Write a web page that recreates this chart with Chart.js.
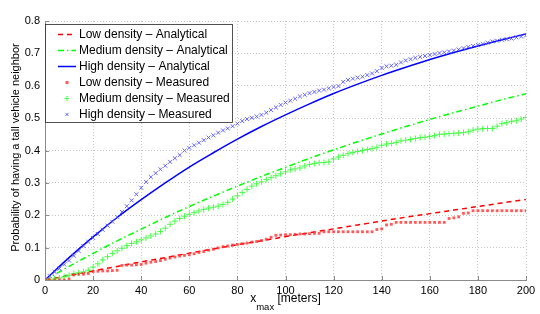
<!DOCTYPE html>
<html>
<head>
<meta charset="utf-8">
<script src="https://cdn.jsdelivr.net/npm/chart.js@4/dist/chart.umd.min.js"></script>
<style>
html,body{margin:0;padding:0;background:#fff;}
#wrap{width:540px;height:314px;position:relative;}
</style>
</head>
<body>
<div id="wrap"><canvas id="c" width="540" height="314"></canvas></div>
<script>
// ---- data ----
const xAnalytical = [0,10,20,30,40,50,60,70,80,90,100,110,120,130,140,150,160,170,180,190,200];
const lowAnalytical = [0,0.014,0.028,0.042,0.056,0.069,0.083,0.096,0.109,0.121,0.134,0.146,0.158,0.170,0.182,0.194,0.205,0.216,0.227,0.238,0.249];
const mediumAnalytical = [0,0.042,0.082,0.121,0.157,0.193,0.227,0.259,0.290,0.320,0.348,0.376,0.402,0.427,0.451,0.474,0.496,0.517,0.537,0.557,0.575];
const highAnalytical = [0,0.069,0.133,0.193,0.248,0.300,0.349,0.393,0.435,0.474,0.510,0.544,0.576,0.605,0.632,0.657,0.681,0.703,0.723,0.742,0.760];

const xMeasured = [0,2,4,6,8,10,12,14,16,18,20,22,24,26,28,30,32,34,36,38,40,42,44,46,48,50,52,54,56,58,60,62,64,66,68,70,72,74,76,78,80,82,84,86,88,90,92,94,96,98,100,102,104,106,108,110,112,114,116,118,120,122,124,126,128,130,132,134,136,138,140,142,144,146,148,150,152,154,156,158,160,162,164,166,168,170,172,174,176,178,180,182,184,186,188,190,192,194,196,198,200];
const lowMeasured = [0,0,0,0,0,0.003,0.016,0.018,0.018,0.020,0.026,0.027,0.028,0.028,0.029,0.030,0.045,0.046,0.046,0.047,0.048,0.052,0.055,0.057,0.060,0.064,0.068,0.071,0.074,0.076,0.078,0.081,0.085,0.088,0.092,0.095,0.099,0.103,0.105,0.108,0.110,0.112,0.114,0.117,0.119,0.122,0.126,0.132,0.138,0.139,0.140,0.140,0.141,0.142,0.142,0.143,0.144,0.144,0.149,0.149,0.149,0.149,0.149,0.149,0.149,0.149,0.149,0.149,0.149,0.156,0.158,0.170,0.172,0.178,0.178,0.178,0.178,0.178,0.178,0.178,0.178,0.178,0.178,0.178,0.190,0.192,0.195,0.206,0.207,0.214,0.214,0.214,0.214,0.214,0.214,0.214,0.214,0.214,0.214,0.214,0.214];
const mediumMeasured = [0,0,0.003,0.006,0.010,0.015,0.020,0.022,0.025,0.030,0.040,0.050,0.062,0.072,0.082,0.090,0.098,0.106,0.113,0.118,0.124,0.130,0.136,0.142,0.150,0.160,0.172,0.182,0.190,0.197,0.203,0.208,0.213,0.218,0.222,0.225,0.228,0.233,0.240,0.250,0.260,0.270,0.280,0.290,0.297,0.303,0.310,0.316,0.322,0.328,0.334,0.340,0.343,0.346,0.352,0.357,0.360,0.362,0.363,0.365,0.374,0.380,0.385,0.390,0.394,0.397,0.400,0.403,0.406,0.410,0.416,0.420,0.422,0.425,0.430,0.432,0.434,0.437,0.440,0.441,0.443,0.446,0.450,0.451,0.452,0.453,0.454,0.455,0.458,0.463,0.466,0.467,0.468,0.468,0.475,0.483,0.486,0.490,0.492,0.497,0.502];
const highMeasured = [0,0.012,0.025,0.035,0.048,0.060,0.075,0.090,0.105,0.118,0.130,0.142,0.155,0.168,0.180,0.195,0.210,0.228,0.246,0.265,0.285,0.303,0.318,0.330,0.342,0.353,0.365,0.376,0.386,0.400,0.408,0.416,0.424,0.432,0.440,0.447,0.455,0.462,0.468,0.475,0.483,0.491,0.497,0.501,0.505,0.510,0.517,0.525,0.533,0.541,0.548,0.554,0.560,0.567,0.572,0.577,0.581,0.585,0.588,0.592,0.596,0.599,0.612,0.618,0.622,0.625,0.628,0.633,0.638,0.645,0.655,0.660,0.662,0.665,0.672,0.678,0.682,0.686,0.689,0.692,0.695,0.698,0.701,0.703,0.706,0.709,0.712,0.716,0.720,0.723,0.726,0.729,0.733,0.737,0.739,0.742,0.744,0.746,0.749,0.752,0.755];

const xTicks = [0,20,40,60,80,100,120,140,160,180,200];
const yTicks = [0,0.1,0.2,0.3,0.4,0.5,0.6,0.7,0.8];

const seriesLabels = [
  'Low density \u2013 Analytical',
  'Medium density \u2013 Analytical',
  'High density \u2013 Analytical',
  'Low density \u2013 Measured',
  'Medium density \u2013 Measured',
  'High density \u2013 Measured'
];

const FONT = '"Liberation Sans", Arial, Helvetica, sans-serif';
const pts = (xs, ys) => xs.map((x, i) => ({x: x, y: ys[i]}));

const RED = '#ff0000', GREEN = '#00ff00', BLUE = '#0000ff';
const dashRed = [5,4];
const dashGreen = [6,3,1.5,3];

const datasets = [
  {label: seriesLabels[0], data: pts(xAnalytical, lowAnalytical), showLine: true, borderColor: RED, borderWidth: 1.5, borderDash: dashRed, pointRadius: 0, cubicInterpolationMode: 'monotone', order: 2},
  {label: seriesLabels[1], data: pts(xAnalytical, mediumAnalytical), showLine: true, borderColor: GREEN, borderWidth: 1.5, borderDash: dashGreen, pointRadius: 0, cubicInterpolationMode: 'monotone', order: 2},
  {label: seriesLabels[2], data: pts(xAnalytical, highAnalytical), showLine: true, borderColor: BLUE, borderWidth: 1.5, pointRadius: 0, cubicInterpolationMode: 'monotone', order: 2},
  {label: seriesLabels[3], data: pts(xMeasured, lowMeasured), showLine: false, pointStyle: 'rect', pointRadius: 2, backgroundColor: 'rgba(255,50,50,0.8)', borderWidth: 0, order: 1},
  {label: seriesLabels[4], data: pts(xMeasured, mediumMeasured), showLine: false, pointStyle: 'cross', pointRadius: 3, borderColor: '#44ff44', backgroundColor: '#44ff44', borderWidth: 1, order: 1},
  {label: seriesLabels[5], data: pts(xMeasured, highMeasured), showLine: false, pointStyle: 'crossRot', pointRadius: 2.8, borderColor: '#5555ff', backgroundColor: '#5555ff', borderWidth: 0.9, order: 1}
];

const decor = {
  id: 'decor',
  afterDraw(chart) {
    const ctx = chart.ctx;
    const xs = chart.scales.x, ys = chart.scales.y;
    const a = chart.chartArea;
    ctx.save();
    // inward tick marks
    ctx.strokeStyle = '#8a8a8a';
    ctx.lineWidth = 1;
    ctx.beginPath();
    xTicks.forEach(v => {
      const px = Math.round(xs.getPixelForValue(v)) + 0.5;
      ctx.moveTo(px, a.bottom); ctx.lineTo(px, a.bottom - 4);
    });
    yTicks.forEach(v => {
      const py = Math.round(ys.getPixelForValue(v)) + 0.5;
      ctx.moveTo(a.left, py); ctx.lineTo(a.left + 4, py);
    });
    ctx.stroke();

    // legend
    const lx = 45.5, ly = 24.5, lw = 187, lh = 98;
    ctx.fillStyle = '#ffffff';
    ctx.fillRect(lx, ly, lw, lh);
    ctx.strokeStyle = '#262626';
    ctx.lineWidth = 0.8;
    ctx.setLineDash([]);
    ctx.strokeRect(lx, ly, lw, lh);
    const rows = [34.5, 50.5, 66.5, 82.5, 98.5, 114.5];
    ctx.font = '12px ' + FONT;
    ctx.textBaseline = 'middle';
    ctx.textAlign = 'left';
    chart.data.datasets.forEach((ds, i) => {
      const y = rows[i];
      if (ds.showLine) {
        ctx.save();
        ctx.strokeStyle = ds.borderColor;
        ctx.lineWidth = ds.borderWidth;
        ctx.setLineDash(ds.borderDash || []);
        ctx.beginPath();
        ctx.moveTo(58, y); ctx.lineTo(76, y);
        ctx.stroke();
        ctx.restore();
      } else {
        ctx.save();
        const cx = 67;
        if (ds.pointStyle === 'rect') {
          ctx.fillStyle = ds.backgroundColor;
          ctx.fillRect(cx - 1.5, y - 1.5, 3, 3);
        } else if (ds.pointStyle === 'cross') {
          ctx.strokeStyle = ds.borderColor; ctx.lineWidth = 1;
          ctx.beginPath(); ctx.moveTo(cx - 2.5, y); ctx.lineTo(cx + 2.5, y); ctx.moveTo(cx, y - 2.5); ctx.lineTo(cx, y + 2.5); ctx.stroke();
        } else {
          ctx.strokeStyle = ds.borderColor; ctx.lineWidth = 0.9;
          ctx.beginPath(); ctx.moveTo(cx - 1.6, y - 1.6); ctx.lineTo(cx + 1.6, y + 1.6); ctx.moveTo(cx + 1.6, y - 1.6); ctx.lineTo(cx - 1.6, y + 1.6); ctx.stroke();
        }
        ctx.restore();
      }
      ctx.fillStyle = '#000';
      ctx.fillText(ds.label, 79, y);
    });

    // y title
    ctx.save();
    ctx.translate(16, (a.top + a.bottom) / 2 - 3);
    ctx.rotate(-Math.PI / 2);
    ctx.font = '11px ' + FONT;
    ctx.fillStyle = '#000';
    ctx.textAlign = 'center';
    ctx.textBaseline = 'middle';
    ctx.fillText('Probability of having a tall vehicle neighbor', 0, 0);
    ctx.restore();

    // x title with subscript
    ctx.save();
    ctx.fillStyle = '#000';
    ctx.textBaseline = 'alphabetic';
    ctx.textAlign = 'left';
    const f1 = '12px ' + FONT, f2 = '9.5px ' + FONT;
    ctx.font = f1; const w1 = ctx.measureText('x').width;
    ctx.font = f2; const w2 = ctx.measureText('max').width;
    ctx.font = f1; const w3 = ctx.measureText(' [meters]').width;
    const total = w1 + w2 + w3;
    let sx = (a.left + a.right) / 2 - total / 2;
    const base = 302;
    ctx.font = f1; ctx.fillText('x', sx, base); sx += w1;
    ctx.font = f2; ctx.fillText('max', sx, base + 8); sx += w2;
    ctx.font = f1; ctx.fillText(' [meters]', sx, base);
    ctx.restore();

    ctx.restore();
  }
};

new Chart(document.getElementById('c'), {
  type: 'scatter',
  data: {datasets: datasets},
  options: {
    responsive: false,
    animation: false,
    layout: {padding: {top: 21, right: 14, left: 0, bottom: 0}},
    plugins: {legend: {display: false}, tooltip: {enabled: false}},
    scales: {
      x: {
        type: 'linear', min: 0, max: 200,
        afterBuildTicks: s => { s.ticks = xTicks.map(v => ({value: v})); },
        afterFit: s => { s.height = 34; },
        ticks: {font: {size: 11, family: FONT}, color: '#000', padding: 4, maxRotation: 0, autoSkip: false},
        grid: {color: '#c4c4c4', lineWidth: 1, drawTicks: false},
        border: {display: true, color: '#8a8a8a', width: 1, dash: [1,2]}
      },
      y: {
        type: 'linear', min: 0, max: 0.8,
        afterBuildTicks: s => { s.ticks = yTicks.map(v => ({value: v})); },
        afterFit: s => { s.width = 45; },
        ticks: {font: {size: 11, family: FONT}, color: '#000', padding: 5, autoSkip: false, callback: v => String(Math.round(v * 10) / 10)},
        grid: {color: '#c4c4c4', lineWidth: 1, drawTicks: false},
        border: {display: true, color: '#8a8a8a', width: 1, dash: [1,2]}
      }
    }
  },
  plugins: [decor]
});
</script>
</body>
</html>
